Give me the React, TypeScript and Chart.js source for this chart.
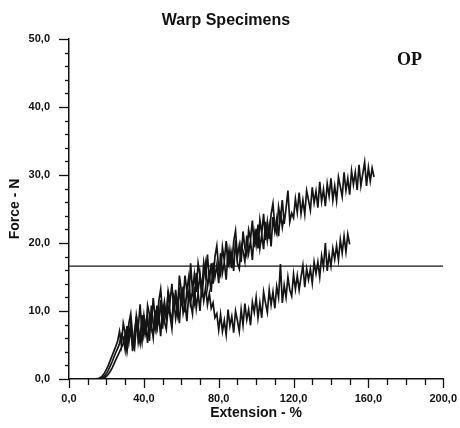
import React, { useEffect, useRef } from "react";
import { Chart, registerables } from "chart.js";

Chart.register(...registerables);

// Extension (%) of the first sample in each curve; samples are 1 % apart
const curveAStart = 12;
const curveBStart = 12;
const curveCStart = 12;

// Force (N) readings, specimen A (longest, upper branch)
const curveAForce = [
  0, 0, 0, 0.05, 0.1, 0.25, 0.5, 0.9, 1.4, 2.0, 2.7, 3.4, 4.1, 4.8, 5.6, 7.0,
  5.0, 8.2, 6.8, 4.7, 8.2, 9.6, 6.5, 5.4, 9.3, 7.5, 11.0, 6.8, 9.3, 6.5, 10.8, 9.5,
  7.7, 11.9, 9.2, 7.7, 11.5, 13.2, 9.7, 11.4, 9.1, 12.9, 11.4, 14.0, 10.1, 13.1, 10.1, 15.2,
  13.1, 11.7, 15.2, 12.9, 11.5, 17.0, 12.9, 15.4, 12.8, 17.0, 15.3, 13.1, 17.1, 15.1, 18.3, 14.4,
  17.0, 14.0, 18.0, 19.6, 16.2, 15.3, 19.4, 17.4, 20.3, 16.4, 18.9, 16.3, 20.2, 21.8, 18.0, 19.7,
  17.2, 21.7, 19.3, 18.2, 21.9, 20.6, 23.3, 19.4, 22.1, 19.2, 23.4, 21.4, 24.3, 20.4, 23.1, 20.6,
  24.2, 25.8, 22.4, 21.4, 25.3, 23.6, 26.3, 22.8, 25.1, 27.7, 23.1, 24.4, 23.7, 26.5, 24.5, 27.4,
  24.3, 26.3, 24.2, 27.7, 26.3, 24.8, 28.2, 25.9, 27.6, 25.2, 29.0, 26.1, 27.9, 25.4, 28.7, 26.9,
  29.5, 26.3, 28.4, 26.2, 29.7, 28.3, 26.8, 30.4, 27.7, 29.5, 27.1, 30.6, 28.6, 30.4, 27.8, 31.5,
  28.4, 30.2, 31.9, 28.4, 31.1, 29.1, 31.0, 29.7,
];

// Force (N) readings, specimen B (upper branch, ends near 115 %)
const curveBForce = [
  0, 0, 0, 0, 0.03, 0.08, 0.2, 0.45, 0.8, 1.3, 1.9, 2.5, 3.2, 3.9, 4.5, 5.2,
  6.6, 6.1, 4.3, 7.8, 5.4, 7.5, 4.1, 6.9, 9.2, 5.4, 7.1, 5.4, 9.4, 6.9, 9.0, 5.6,
  10.8, 8.2, 7.2, 10.8, 8.3, 11.6, 7.4, 10.6, 8.7, 13.0, 9.9, 8.4, 12.2, 11.3, 9.5, 13.5,
  10.8, 13.6, 9.8, 13.1, 15.0, 11.3, 13.0, 11.3, 15.6, 13.0, 15.3, 12.0, 15.1, 17.0, 13.5, 15.2,
  12.8, 17.1, 15.0, 16.8, 14.1, 18.5, 15.6, 17.1, 14.6, 18.9, 16.9, 18.6, 15.9, 20.4, 17.0, 16.2,
  19.8, 18.8, 17.3, 21.1, 18.5, 20.3, 17.5, 21.5, 19.7, 22.7, 19.2, 21.2, 19.1, 23.1, 20.4, 22.5,
  19.5, 23.8, 21.7, 23.6, 21.0, 24.7, 22.3, 24.0,
];

// Force (N) readings, specimen C (slips near 76 %, lower branch)
const curveCForce = [
  0, 0, 0, 0, 0, 0.03, 0.08, 0.2, 0.4, 0.7, 1.1, 1.6, 2.2, 2.8, 3.4, 4.0,
  4.6, 5.2, 6.6, 4.1, 6.4, 8.2, 5.1, 4.4, 8.0, 6.6, 5.2, 9.4, 6.4, 8.1, 5.3, 8.9,
  8.0, 6.1, 10.1, 7.3, 9.1, 6.3, 10.9, 8.4, 7.3, 10.6, 9.3, 7.4, 11.6, 8.9, 10.9, 8.2,
  12.6, 9.7, 11.2, 8.5, 12.5, 11.2, 9.6, 13.5, 10.4, 12.7, 10.0, 13.8, 11.5, 13.5, 10.9, 12.6,
  10.4, 11.2, 9.0, 9.6, 7.2, 9.5, 7.0, 8.6, 6.5, 10.2, 7.8, 9.2, 6.8, 10.0, 8.6, 7.0,
  10.2, 7.9, 11.1, 8.7, 10.2, 7.9, 11.3, 9.8, 12.0, 9.0, 11.2, 9.0, 12.8, 11.2, 9.8, 13.1,
  10.9, 12.8, 10.4, 13.6, 12.0, 16.9, 11.2, 13.8, 12.0, 15.0, 13.1, 12.2, 15.4, 13.2, 15.2, 13.1,
  15.0, 16.7, 13.5, 16.2, 14.6, 16.2, 14.1, 17.2, 15.5, 17.2, 15.0, 18.1, 16.5, 20.0, 15.9, 18.3,
  16.6, 19.2, 17.6, 19.6, 17.5, 20.5, 18.5, 21.0, 18.7, 21.3, 19.8,
];

// Reference force level (N), drawn across the full extension range
const thresholdForce = 16.6;
const thresholdExtent = [0, 200];

// Axis ranges and tick steps
const xRange = [0, 200];
const yRange = [0, 50];
const xMinorStep = 10;
const xMajorStep = 40;
const yMinorStep = 2;
const yMajorStep = 10;

const titleText = "Warp Specimens";
const cornerLabel = "OP";
const xTitle = "Extension - %";
const yTitle = "Force - N";

const toPoints = (start: number, values: number[]) =>
  values.map((v, i) => ({ x: start + i, y: v }));

const fmt = (v: number) => v.toFixed(1).replace(".", ",");

const tickMarks = {
  id: "tickMarks",
  afterDraw(chart: any) {
    const { ctx, chartArea, scales } = chart;
    ctx.save();
    ctx.strokeStyle = "#111";
    ctx.lineWidth = 1.3;
    const xs = scales.x;
    xs.ticks.forEach((t: any) => {
      const px = Math.round(xs.getPixelForValue(t.value)) + 0.5;
      const major = Math.abs(t.value % xMajorStep) < 1e-6;
      ctx.beginPath();
      ctx.moveTo(px, chartArea.bottom);
      ctx.lineTo(px, chartArea.bottom + (major ? 9 : 6));
      ctx.stroke();
    });
    const ys = scales.y;
    ys.ticks.forEach((t: any) => {
      const py = Math.round(ys.getPixelForValue(t.value)) + 0.5;
      const major = Math.abs(t.value % yMajorStep) < 1e-6;
      ctx.beginPath();
      ctx.moveTo(chartArea.left, py);
      ctx.lineTo(chartArea.left - (major ? 10 : 4), py);
      ctx.stroke();
    });
    ctx.fillStyle = "#111";
    ctx.textAlign = "center";
    ctx.textBaseline = "alphabetic";
    ctx.font = "bold 16px 'Liberation Sans', Arial, sans-serif";
    ctx.fillText(titleText, 226, 25);
    ctx.textAlign = "left";
    ctx.font = "bold 18px 'Liberation Serif', 'Times New Roman', serif";
    ctx.fillText(cornerLabel, 397, 65);
    ctx.restore();
  },
};

export default function App() {
  const ref = useRef<HTMLCanvasElement | null>(null);

  useEffect(() => {
    if (!ref.current) return;
    const lineStyle = {
      borderColor: "#141414",
      borderWidth: 1.7,
      pointRadius: 0,
      tension: 0,
      fill: false,
    };
    const chart = new Chart(ref.current, {
      type: "line",
      data: {
        datasets: [
          { ...lineStyle, data: toPoints(curveAStart, curveAForce) },
          { ...lineStyle, data: toPoints(curveBStart, curveBForce) },
          { ...lineStyle, data: toPoints(curveCStart, curveCForce) },
          {
            ...lineStyle,
            borderWidth: 1.3,
            data: thresholdExtent.map((x) => ({ x, y: thresholdForce })),
          },
        ],
      },
      options: {
        animation: false,
        responsive: false,
        parsing: true,
        layout: { padding: { left: 0, top: 39, right: 13, bottom: 0 } },
        plugins: {
          legend: { display: false },
          title: { display: false },
          tooltip: { enabled: false },
        },
        scales: {
          x: {
            type: "linear",
            min: xRange[0],
            max: xRange[1],
            border: { display: true, color: "#111", width: 1.5 },
            grid: {
              drawOnChartArea: false,
              drawTicks: true,
              tickLength: 10,
              color: "rgba(0,0,0,0)",
            },
            ticks: {
              stepSize: xMinorStep,
              autoSkip: false,
              maxRotation: 0,
              padding: 3,
              color: "#111",
              font: { size: 11, weight: "bold" },
              callback: (v: any) =>
                Math.abs(Number(v) % xMajorStep) < 1e-6 ? fmt(Number(v)) : "",
            },
            title: {
              display: true,
              text: xTitle,
              color: "#111",
              font: { size: 14, weight: "bold" },
              padding: { top: 0, bottom: 6 },
            },
            afterFit: (s: any) => {
              s.height = 49;
            },
          },
          y: {
            type: "linear",
            min: yRange[0],
            max: yRange[1],
            border: { display: true, color: "#111", width: 1.5 },
            grid: {
              drawOnChartArea: false,
              drawTicks: true,
              tickLength: 10,
              color: "rgba(0,0,0,0)",
            },
            ticks: {
              stepSize: yMinorStep,
              autoSkip: false,
              padding: 9,
              color: "#111",
              font: { size: 11, weight: "bold" },
              callback: (v: any) =>
                Math.abs(Number(v) % yMajorStep) < 1e-6 ? fmt(Number(v)) : "",
            },
            title: {
              display: true,
              text: yTitle,
              color: "#111",
              font: { size: 14, weight: "bold" },
              padding: { top: 7, bottom: 0 },
            },
            afterFit: (s: any) => {
              s.width = 69;
            },
          },
        },
      },
      plugins: [tickMarks],
    });
    return () => chart.destroy();
  }, []);

  Chart.defaults.font.family = "'Liberation Sans', Arial, sans-serif";

  return (
    <div style={{ position: "absolute", left: 0, top: 0, width: 460, height: 428, background: "#fff" }}>
      <canvas ref={ref} width={460} height={428} />
    </div>
  );
}
